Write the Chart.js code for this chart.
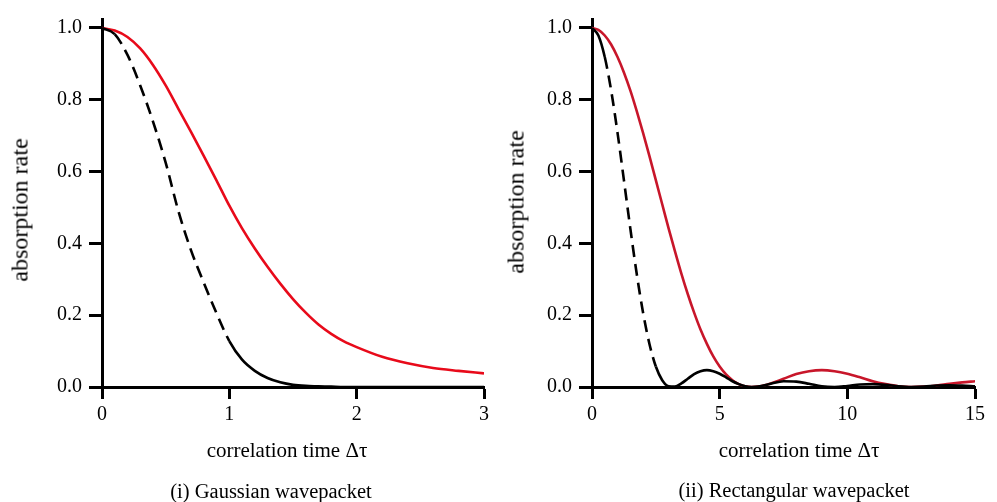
<!DOCTYPE html>
<html>
<head>
<meta charset="utf-8">
<script src="https://cdn.jsdelivr.net/npm/chart.js@4.4.1/dist/chart.umd.min.js"></script>
<style>
  html, body { margin: 0; padding: 0; background: #fff; }
  #wrap { position: relative; width: 997px; height: 502px; font-family: "Liberation Serif", "DejaVu Serif", serif; color: #000; }
  canvas { position: absolute; top: 0; }
  .lbl { position: absolute; white-space: nowrap; font-size: 21px; transform: translate(-50%, -50%); }
  .ylbl { font-size: 24px; transform: translate(-50%, -50%) rotate(-90deg); }
  .cap { font-size: 20.5px; }
</style>
</head>
<body>
<div id="wrap">
  <canvas id="chartLeft" width="497" height="502" style="left:0"></canvas>
  <canvas id="chartRight" width="500" height="502" style="left:497px"></canvas>
  <div class="lbl ylbl" style="left:20px; top:210px">absorption rate</div>
  <div class="lbl ylbl" style="left:516px; top:202px">absorption rate</div>
  <div class="lbl" style="left:287px; top:450px">correlation time Δτ</div>
  <div class="lbl" style="left:799px; top:450px">correlation time Δτ</div>
  <div class="lbl cap" style="left:271px; top:491px">(i) Gaussian wavepacket</div>
  <div class="lbl cap" style="left:794px; top:490px">(ii) Rectangular wavepacket</div>
</div>
<script>
// tick values
const yTicks = [0, 0.2, 0.4, 0.6, 0.8, 1.0];
const xTicksLeft = [0, 1, 2, 3];
const xTicksRight = [0, 5, 10, 15];

// (i) Gaussian wavepacket
const gaussX = [0, 0.1, 0.2, 0.3, 0.4, 0.5, 0.6, 0.7, 0.8, 0.9, 1.0, 1.1, 1.2, 1.3, 1.4, 1.5, 1.6, 1.7, 1.8, 1.9, 2.0, 2.2, 2.4, 2.6, 2.8, 3.0];
const gaussRed = [1.0, 0.993, 0.975, 0.943, 0.897, 0.84, 0.775, 0.71, 0.643, 0.575, 0.505, 0.442, 0.386, 0.335, 0.288, 0.245, 0.207, 0.174, 0.148, 0.127, 0.111, 0.084, 0.066, 0.053, 0.045, 0.038];
const gaussBlack = [1.0, 0.983, 0.925, 0.84, 0.74, 0.625, 0.49, 0.38, 0.29, 0.205, 0.128, 0.076, 0.045, 0.025, 0.013, 0.006, 0.003, 0.002, 0.001, 0.0, 0.0, 0.0, 0.0, 0.0, 0.0, 0.0];

// (ii) Rectangular wavepacket
const rectX = [0, 0.25, 0.5, 0.75, 1.0, 1.25, 1.5, 1.75, 2.0, 2.25, 2.5, 2.75, 3.0, 3.25, 3.5, 3.75, 4.0, 4.25, 4.5, 4.75, 5.0, 5.25, 5.5, 5.75, 6.0, 6.25, 6.5, 7.0, 7.5, 8.0, 8.5, 9.0, 9.5, 10.0, 10.5, 11.0, 11.5, 12.0, 12.5, 13.0, 13.5, 14.0, 14.5, 15.0];
const rectRed = [1.0, 0.995, 0.979, 0.954, 0.919, 0.876, 0.826, 0.769, 0.708, 0.643, 0.576, 0.509, 0.442, 0.378, 0.316, 0.259, 0.207, 0.160, 0.120, 0.085, 0.057, 0.035, 0.019, 0.008, 0.002, 0.0, 0.001, 0.010, 0.023, 0.036, 0.044, 0.047, 0.044, 0.037, 0.027, 0.016, 0.008, 0.002, 0.0, 0.001, 0.004, 0.009, 0.013, 0.016];
const rectBlack = [1.0, 0.979, 0.919, 0.826, 0.708, 0.576, 0.442, 0.316, 0.207, 0.120, 0.057, 0.019, 0.002, 0.001, 0.010, 0.023, 0.036, 0.044, 0.047, 0.044, 0.037, 0.027, 0.016, 0.008, 0.002, 0.0, 0.001, 0.009, 0.016, 0.015, 0.009, 0.002, 0.0, 0.003, 0.007, 0.008, 0.006, 0.002, 0.0, 0.001, 0.004, 0.005, 0.004, 0.002];

Chart.defaults.font.family = '"Liberation Serif", "DejaVu Serif", serif';
Chart.defaults.color = '#000';

function points(xs, ys) {
    return xs.map((x, i) => ({x: x, y: ys[i]}));
}

// black curve is dashed between dashHi and dashLo (segment start value)
function makeChart(id, xs, red, black, redColor, xMax, xTicks, yAxisWidth, padRight, dashHi, dashLo) {
    const data = {
        datasets: [
            {
                data: points(xs, black),
                borderColor: '#000',
                borderWidth: 2.6,
                pointRadius: 0,
                cubicInterpolationMode: 'monotone',
                segment: {
                    borderDash: ctx => (ctx.p0.parsed.y < dashHi && ctx.p0.parsed.y > dashLo) ? [12, 7] : undefined
                }
            },
            {
                data: points(xs, red),
                borderColor: redColor,
                borderWidth: 2.6,
                pointRadius: 0,
                cubicInterpolationMode: 'monotone'
            }
        ]
    };

    const config = {
        type: 'scatter',
        data: data,
        options: {
            responsive: false,
            animation: false,
            showLine: true,
            layout: {padding: {left: 0, right: padRight, top: 13, bottom: 0}},
            plugins: {legend: {display: false}, tooltip: {enabled: false}},
            scales: {
                x: {
                    type: 'linear',
                    min: 0,
                    max: xMax,
                    afterBuildTicks: s => { s.ticks = xTicks.map(v => ({value: v})); },
                    afterFit: s => { s.height = 115; },
                    border: {display: true, color: '#000', width: 3},
                    grid: {drawOnChartArea: false, tickLength: 12, tickWidth: 3, tickColor: '#000'},
                    ticks: {font: {size: 20}, padding: 4, maxRotation: 0}
                },
                y: {
                    type: 'linear',
                    min: 0,
                    max: 1.025,
                    afterBuildTicks: s => { s.ticks = yTicks.map(v => ({value: v})); },
                    afterFit: s => { s.width = yAxisWidth; },
                    border: {display: true, color: '#000', width: 3},
                    grid: {drawOnChartArea: false, tickLength: 13, tickWidth: 3, tickColor: '#000'},
                    ticks: {font: {size: 20}, padding: 7, callback: v => v.toFixed(1)}
                }
            }
        }
    };

    return new Chart(id, config);
}

makeChart('chartLeft', gaussX, gaussRed, gaussBlack, 'rgb(232, 10, 26)', 3, xTicksLeft, 102, 13, 0.99, 0.14);
makeChart('chartRight', rectX, rectRed, rectBlack, 'rgb(200, 22, 42)', 15, xTicksRight, 95, 22, 0.93, 0.06);
</script>
</body>
</html>
